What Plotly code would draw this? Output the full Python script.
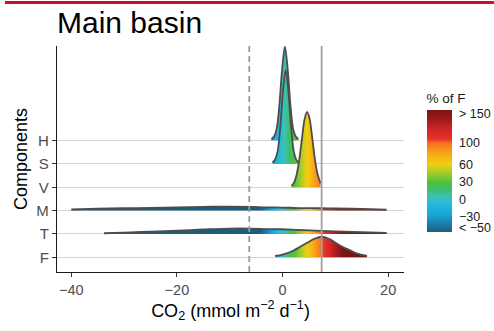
import plotly.graph_objects as go

# ---------------- data ----------------
components = ["F", "T", "M", "V", "S", "H"]          # bottom -> top
F_REF = 7.4          # solid grey line (reference F value, = 100 % of F)
DASH_REF = -6.3      # dashed grey line

# ridge outlines: x (CO2) and scaled density height (in category units)
H_x = [-2.1, -1.6, -1.1, -0.6, -0.1, 0.45, 1.0, 1.5, 2.0, 2.5, 3.0]
H_h = [0.06, 0.17, 0.51, 1.50, 2.99, 4.02, 2.99, 1.50, 0.51, 0.17, 0.06]

S_x = [-1.9, -1.45, -0.95, -0.45, 0.05, 0.6, 1.15, 1.65, 2.15, 2.6, 3.0]
S_h = [0.06, 0.17, 0.51, 1.50, 2.99, 4.02, 2.99, 1.50, 0.51, 0.17, 0.06]

V_x = [1.7, 2.2, 2.7, 3.2, 3.7, 4.2, 4.66, 5.1, 5.6, 6.1, 6.6, 7.2]
V_h = [0.06, 0.21, 0.57, 1.23, 2.13, 2.94, 3.23, 2.96, 2.17, 1.26, 0.59, 0.17]

M_x = [-40, -35, -30, -25, -20, -15, -10, -6, -3, 0, 3, 7.4, 10, 15, 19.7]
M_h = [0.05, 0.08, 0.10, 0.12, 0.14, 0.16, 0.17, 0.16, 0.14, 0.13, 0.11, 0.10, 0.09, 0.07, 0.04]

T_x = [-33.8, -30, -25, -20, -15, -10, -6, -3, 0, 3, 7.4, 10, 15, 19.7]
T_h = [0.03, 0.06, 0.10, 0.14, 0.19, 0.23, 0.23, 0.21, 0.20, 0.17, 0.13, 0.11, 0.08, 0.05]

F_x = [-1.4, 0, 2, 3.5, 4.5, 6, 7.5, 9, 10.2, 11.5, 12.7, 14, 16]
F_h = [0.06, 0.11, 0.28, 0.47, 0.60, 0.79, 0.88, 0.77, 0.60, 0.43, 0.31, 0.17, 0.06]

ridges = [("H", H_x, H_h), ("S", S_x, S_h), ("V", V_x, V_h),
          ("M", M_x, M_h), ("T", T_x, T_h), ("F", F_x, F_h)]

# colour bar (% of F)
PCT_MIN, PCT_MAX = -57, 157
pct_ticks = [-50, -30, 0, 30, 60, 100, 150]
pct_labels = ["< \u221250", "\u221230", "0", "30", "60", "100", "> 150"]

x_ticks = [-40, -20, 0, 20]
x_labels = ["\u221240", "\u221220", "0", "20"]

# ---------------- styling ----------------
def nrm(p):
    return (p - PCT_MIN) / (PCT_MAX - PCT_MIN)

colorscale = [
    [0.0, "#1a5e7c"],
    [nrm(-45), "#1b78a2"],
    [nrm(-28), "#1aa3d6"],
    [nrm(-10), "#22b8e2"],
    [nrm(5), "#3cc1b6"],
    [nrm(18), "#3cbf6a"],
    [nrm(30), "#4ec23c"],
    [nrm(45), "#9acb2e"],
    [nrm(62), "#efcf10"],
    [nrm(75), "#f8b414"],
    [nrm(92), "#f7861f"],
    [nrm(100), "#f46a24"],
    [nrm(106), "#e8322c"],
    [nrm(125), "#cc2424"],
    [nrm(140), "#a01a1c"],
    [1.0, "#7a1414"],
]

x_lo = PCT_MIN / 100 * F_REF
x_hi = PCT_MAX / 100 * F_REF

fig = go.Figure()

for name, xs, hs in ridges:
    base = components.index(name)
    # invisible baseline
    fig.add_trace(go.Scatter(
        x=[xs[0], xs[-1]], y=[base, base], mode="lines",
        line=dict(width=0, color="rgba(0,0,0,0)"),
        hoverinfo="skip", showlegend=False))
    fig.add_trace(go.Scatter(
        x=xs, y=[base + h for h in hs], mode="lines",
        line=dict(color="#4d4d4d", width=1.8, shape="spline", smoothing=1),
        fill="tonexty", fillcolor="rgba(0,0,0,0)",
        fillgradient=dict(type="horizontal", colorscale=colorscale,
                          start=x_lo, stop=x_hi),
        hoverinfo="skip", showlegend=False, name=name))

# colour bar holder
fig.add_trace(go.Scatter(
    x=F_x, y=[0] * len(F_x), mode="markers",
    marker=dict(size=1, opacity=0,
                color=[v / F_REF * 100 for v in F_x],
                colorscale=colorscale, cmin=PCT_MIN, cmax=PCT_MAX,
                showscale=True,
                colorbar=dict(
                    title=dict(text="% of F", side="top",
                               font=dict(size=13.5, color="#1a1a1a",
                                         family="Liberation Sans, Arial")),
                    tickvals=pct_ticks, ticktext=pct_labels,
                    tickfont=dict(size=12.5, color="#1a1a1a",
                                  family="Liberation Sans, Arial"),
                    ticks="outside", ticklen=5, tickcolor="white", tickwidth=1,
                    thickness=25, thicknessmode="pixels",
                    len=142, lenmode="pixels",
                    x=1.065, xanchor="left", y=0.4925, yanchor="middle",
                    xpad=0, ypad=0, outlinewidth=0)),
    hoverinfo="skip", showlegend=False))

shapes = []
# white vertical grid breaks over horizontal grid
for xv in x_ticks:
    shapes.append(dict(type="line", xref="x", yref="paper", x0=xv, x1=xv,
                       y0=0, y1=1, line=dict(color="white", width=2),
                       layer="between"))
shapes.append(dict(type="line", xref="x", yref="paper", x0=DASH_REF, x1=DASH_REF,
                   y0=0, y1=1, line=dict(color="#9a9a9a", width=1.8, dash="6px,4px"),
                   layer="above"))
shapes.append(dict(type="line", xref="x", yref="paper", x0=F_REF, x1=F_REF,
                   y0=0, y1=1, line=dict(color="#a0a0a0", width=1.8),
                   layer="above"))
# red band at top
shapes.append(dict(type="line", xref="paper", yref="paper",
                   x0=-0.15, x1=1.3, y0=1.192, y1=1.192,
                   line=dict(color="#c8102e", width=3), layer="above"))

fig.update_layout(
    width=494, height=331,
    margin=dict(l=57, r=90, t=46, b=59, autoexpand=False),
    paper_bgcolor="white", plot_bgcolor="white",
    font=dict(family="Liberation Sans, Arial, sans-serif", color="#1a1a1a"),
    title=dict(text="Main basin", x=57 / 494, xanchor="left",
               y=1 - 22.5 / 331, yanchor="middle",
               font=dict(size=30, color="black")),
    shapes=shapes,
    xaxis=dict(range=[-42.7, 23.0], tickvals=x_ticks, ticktext=x_labels,
               showgrid=False, zeroline=False,
               showline=True, linecolor="#1a1a1a", linewidth=1.3,
               ticks="outside", ticklen=4, tickcolor="#333333",
               tickfont=dict(size=14.5, color="#4d4d4d"),
               title=dict(text="CO<sub>2</sub> (mmol m<sup>\u22122</sup> d<sup>\u22121</sup>)",
                          font=dict(size=18, color="black"), standoff=7)),
    yaxis=dict(range=[-0.63, 9.05], tickvals=list(range(len(components))),
               ticktext=components, showgrid=True, gridcolor="#d4d4d4",
               gridwidth=1.2, zeroline=False,
               showline=True, linecolor="#1a1a1a", linewidth=1.3,
               ticks="outside", ticklen=4, tickcolor="#333333",
               tickfont=dict(size=15, color="#4d4d4d"),
               title=dict(text="Components", font=dict(size=18, color="black"),
                          standoff=4)),
)

fig.write_html("out.html")
